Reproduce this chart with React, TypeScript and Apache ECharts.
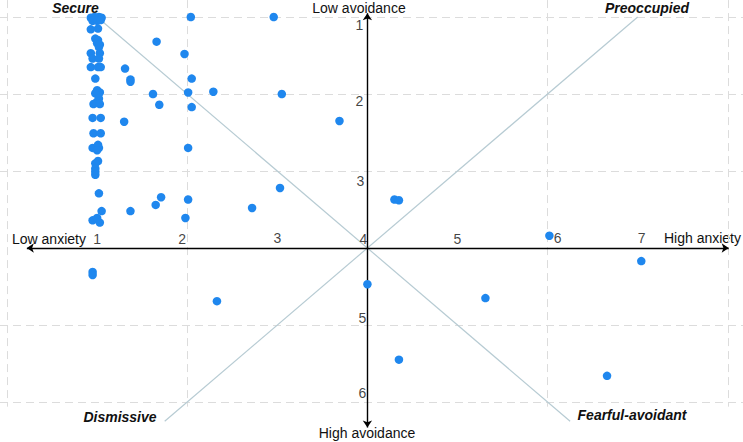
import React, { useEffect, useRef } from "react";
import * as echarts from "echarts";

// Respondents scoring at the bottom of the anxiety scale (jittered around 1)
const lowAnxietyGroup: [number, number][] = [
  [0.93, 1.01], [0.97, 1.0], [1.02, 1.0], [1.05, 1.01], [0.95, 1.05], [1.0, 1.05], [1.04, 1.04],
  [0.93, 1.16], [1.01, 1.15],
  [0.98, 1.28], [1.01, 1.3], [1.0, 1.34], [1.02, 1.39], [1.03, 1.36],
  [0.93, 1.47], [1.03, 1.47], [0.95, 1.54], [1.02, 1.54],
  [0.93, 1.65], [1.01, 1.65], [1.04, 1.65],
  [0.98, 1.8],
  [1.0, 1.95], [1.03, 1.98], [1.01, 2.01], [0.98, 1.99], [1.02, 2.06], [1.0, 2.1],
  [0.96, 2.13], [1.03, 2.13],
  [0.95, 2.31], [1.04, 2.31],
  [0.96, 2.51], [1.04, 2.51],
  [0.95, 2.7], [1.01, 2.66], [1.02, 2.7], [1.0, 2.73],
  [1.01, 2.87], [0.98, 2.9],
  [0.98, 2.97], [0.98, 3.01], [0.98, 3.05],
  [1.02, 3.29],
  [1.05, 3.52],
  [0.95, 3.64], [1.0, 3.61], [1.03, 3.67],
  [0.95, 4.31], [0.95, 4.35],
];

// Everyone else: [anxiety, avoidance]
const otherRespondents: [number, number][] = [
  [2.04, 1.0], [2.96, 1.0], [1.66, 1.32], [1.97, 1.48], [1.31, 1.67], [2.05, 1.8],
  [1.37, 1.81], [1.37, 1.84], [1.62, 2.0], [2.01, 1.98], [2.29, 1.97], [3.05, 2.0],
  [1.69, 2.14], [2.05, 2.17], [1.3, 2.36], [3.69, 2.35], [2.01, 2.7], [3.03, 3.22],
  [1.71, 3.34], [1.65, 3.44], [2.01, 3.37], [1.37, 3.52], [2.72, 3.48], [1.98, 3.61],
  [4.3, 3.37], [4.35, 3.38], [4.0, 4.47], [5.31, 4.65], [4.35, 5.45], [6.02, 3.84],
  [7.04, 4.17], [6.66, 5.66], [2.33, 4.69],
];

// Tick labels along the two crossing axes
const anxietyTicks = [1, 2, 3, 4, 5, 6, 7];
const avoidanceTicks = [1, 2, 3, 5, 6];

// Dashed background grid
const anxietyGridLines = [0, 2, 6, 8];
const avoidanceGridLines = [1, 2, 3, 5, 6];

// Scale midpoint where the axes cross
const midpoint = 4;

// Extent of the visible plane and of the drawn arrows
const anxietyRange = [-0.078, 8.169];
const avoidanceRange = [0.779, 6.519];
const gridTop = 0.78;
const gridBottom = 6.06;
const anxietyArrowSpan = [0.22, 8.01];
const avoidanceArrowSpan = [0.95, 6.33];

// Diagonal dividers: rising (avoidance = anxiety) and falling (avoidance = 8 - anxiety)
const risingSpan = [1.0, 6.25];
const fallingSpan = [1.75, 7.0];

// Per-label nudges so the numbers sit clear of the axes and dots
const anxietyTickNudge: Record<number, [number, number]> = {
  1: [0, -9], 2: [-5, -9], 3: [0, -10], 4: [-4, -9], 5: [0, -9], 6: [10, -10], 7: [4, -10],
};
const avoidanceTickNudge: Record<number, [number, number]> = {
  1: [-8, 8], 2: [-8, 7], 3: [-7, 10], 5: [-5, -7], 6: [-5, -9],
};

const FONT = "'Liberation Sans', Arial, sans-serif";

export default function App() {
  const ref = useRef<HTMLDivElement>(null);

  useEffect(() => {
    if (!ref.current) return;
    const chart = echarts.init(ref.current, undefined, { renderer: "svg" });

    const gridData = [
      ...anxietyGridLines.map((x) => ({ coords: [[x, gridTop], [x, gridBottom]] })),
      ...avoidanceGridLines.map((y) => ({ coords: [[anxietyRange[0], y], [anxietyRange[1], y]] })),
    ];

    const diagonalData = [
      { coords: [[risingSpan[0], risingSpan[0]], [risingSpan[1], risingSpan[1]]] },
      {
        coords: [
          [fallingSpan[0], 2 * midpoint - fallingSpan[0]],
          [fallingSpan[1], 2 * midpoint - fallingSpan[1]],
        ],
      },
    ];

    const axisData = [
      { coords: [[anxietyArrowSpan[0], midpoint], [anxietyArrowSpan[1], midpoint]] },
      { coords: [[midpoint, avoidanceArrowSpan[0]], [midpoint, avoidanceArrowSpan[1]]] },
    ];

    const tickLabelStyle = {
      show: true,
      position: "inside" as const,
      fontFamily: FONT,
      fontSize: 14,
      color: "#111",
    };

    const quadrantStyle = {
      fontFamily: FONT,
      fontSize: 14,
      fontWeight: "bold" as const,
      fontStyle: "italic" as const,
      fill: "#111",
      textAlign: "center" as const,
      textVerticalAlign: "middle" as const,
    };
    const titleStyle = {
      fontFamily: FONT,
      fontSize: 14,
      fill: "#111",
      textVerticalAlign: "middle" as const,
    };

    chart.setOption({
      animation: false,
      backgroundColor: "#ffffff",
      grid: { left: 0, right: 0, top: 0, bottom: 0 },
      xAxis: {
        type: "value",
        min: anxietyRange[0],
        max: anxietyRange[1],
        show: false,
      },
      yAxis: {
        type: "value",
        inverse: true,
        min: avoidanceRange[0],
        max: avoidanceRange[1],
        show: false,
      },
      series: [
        {
          type: "lines",
          coordinateSystem: "cartesian2d",
          silent: true,
          z: 1,
          lineStyle: { color: "#dcdcdc", width: 1, type: [8, 5], opacity: 1 },
          data: gridData,
        },
        {
          type: "lines",
          coordinateSystem: "cartesian2d",
          silent: true,
          z: 2,
          lineStyle: { color: "#b7cbd3", width: 1.2, opacity: 1 },
          data: diagonalData,
        },
        {
          type: "lines",
          coordinateSystem: "cartesian2d",
          silent: true,
          z: 3,
          symbol: ["arrow", "arrow"],
          symbolSize: 7,
          lineStyle: { color: "#000000", width: 1.4, opacity: 1 },
          data: axisData,
        },
        {
          type: "scatter",
          z: 5,
          symbolSize: 8.5,
          itemStyle: { color: "#1f87ee", opacity: 1 },
          data: [...lowAnxietyGroup, ...otherRespondents],
        },
        {
          type: "scatter",
          z: 6,
          silent: true,
          symbolSize: 1,
          itemStyle: { color: "rgba(0,0,0,0)" },
          data: anxietyTicks.map((t) => ({
            value: [t, midpoint],
            label: { ...tickLabelStyle, formatter: String(t), offset: anxietyTickNudge[t] },
          })),
        },
        {
          type: "scatter",
          z: 6,
          silent: true,
          symbolSize: 1,
          itemStyle: { color: "rgba(0,0,0,0)" },
          data: avoidanceTicks.map((t) => ({
            value: [midpoint, t],
            label: { ...tickLabelStyle, formatter: String(t), offset: avoidanceTickNudge[t] },
          })),
        },
      ],
      graphic: [
        { type: "text", x: 75.5, y: 8, style: { ...quadrantStyle, text: "Secure" } },
        { type: "text", x: 647, y: 8, style: { ...quadrantStyle, text: "Preoccupied" } },
        { type: "text", x: 120, y: 417, style: { ...quadrantStyle, text: "Dismissive" } },
        { type: "text", x: 632, y: 415, style: { ...quadrantStyle, text: "Fearful-avoidant" } },
        { type: "text", x: 12, y: 239, style: { ...titleStyle, text: "Low anxiety", textAlign: "left" } },
        { type: "text", x: 741, y: 238, style: { ...titleStyle, text: "High anxiety", textAlign: "right" } },
        { type: "text", x: 359, y: 8, style: { ...titleStyle, text: "Low avoidance", textAlign: "center" } },
        { type: "text", x: 367, y: 433, style: { ...titleStyle, text: "High avoidance", textAlign: "center" } },
      ],
    });

    return () => chart.dispose();
  }, []);

  return (
    <div
      ref={ref}
      style={{ position: "fixed", left: 0, top: 0, width: 743, height: 442, background: "#fff" }}
    />
  );
}
